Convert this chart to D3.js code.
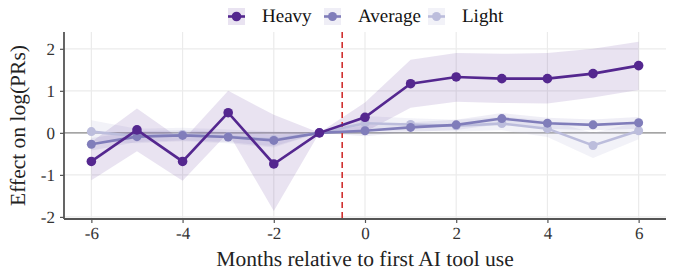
<!DOCTYPE html>
<html>
<head>
<meta charset="utf-8">
<script src="https://cdn.jsdelivr.net/npm/d3@7"></script>
<style>
  body { margin: 0; background: #fff; }
  svg text { font-family: "Liberation Serif", "DejaVu Serif", serif !important; text-rendering: geometricPrecision; }
</style>
</head>
<body>
<div id="chart"></div>
<script>
// months relative to first AI tool use
var months = [-6, -5, -4, -3, -2, -1, 0, 1, 2, 3, 4, 5, 6];

// point estimates per usage group
var heavy   = [-0.68, 0.07, -0.68, 0.48, -0.74, 0, 0.37, 1.17, 1.33, 1.29, 1.29, 1.41, 1.60];
var average = [-0.27, -0.09, -0.06, -0.10, -0.18, 0, 0.05, 0.13, 0.19, 0.34, 0.23, 0.19, 0.24];
var light   = [0.03, -0.08, -0.04, -0.09, -0.16, 0, 0.23, 0.20, 0.17, 0.22, 0.10, -0.30, 0.05];

// confidence bands
var heavyLo   = [-1.13, -0.44, -1.14, 0.00, -1.86, 0, 0.02, 0.60, 0.74, 0.71, 0.70, 0.84, 1.02];
var heavyHi   = [-0.22, 0.58, -0.18, 1.00, 0.43, 0, 0.72, 1.74, 1.90, 1.88, 1.90, 2.00, 2.17];
var averageLo = [-0.42, -0.22, -0.18, -0.22, -0.32, 0, -0.08, 0.02, 0.07, 0.21, 0.10, 0.06, 0.10];
var averageHi = [-0.12, 0.04, 0.06, 0.02, -0.04, 0, 0.18, 0.25, 0.31, 0.47, 0.36, 0.32, 0.38];
var lightLo   = [-0.20, -0.25, -0.20, -0.25, -0.35, 0, 0.05, 0.05, 0.03, 0.06, -0.10, -0.60, -0.15];
var lightHi   = [0.30, 0.10, 0.12, 0.08, 0.03, 0, 0.40, 0.35, 0.31, 0.38, 0.30, 0.00, 0.25];

var xTicks = [-6, -4, -2, 0, 2, 4, 6];
var yTicks = [-2, -1, 0, 1, 2];
var eventMonth = -0.5;

var serif = "'Liberation Serif', 'DejaVu Serif', serif";

var groups = [
  {name: "Heavy",   vals: heavy,   lo: heavyLo,   hi: heavyHi,   color: "#54278f", r: 4.8, band: 0.13},
  {name: "Average", vals: average, lo: averageLo, hi: averageHi, color: "#807dba", r: 4.5, band: 0.13},
  {name: "Light",   vals: light,   lo: lightLo,   hi: lightHi,   color: "#bcbddc", r: 4.5, band: 0.2}
];

var width = 680, height = 272;
var margin = {top: 32, right: 14, bottom: 53, left: 64};

var svg = d3.select("#chart").append("svg")
  .attr("width", width)
  .attr("height", height)
  .attr("font-family", serif);

var x = d3.scaleLinear().domain([-6.6, 6.6]).range([margin.left, width - margin.right]);
var y = d3.scaleLinear().domain([-2.05, 2.4]).range([height - margin.bottom, margin.top]);

// grid
svg.append("g")
  .selectAll("line")
  .data(xTicks)
  .join("line")
  .attr("x1", d => x(d)).attr("x2", d => x(d))
  .attr("y1", margin.top).attr("y2", height - margin.bottom)
  .attr("stroke", "#ebebeb").attr("stroke-width", 1.2);

svg.append("g")
  .selectAll("line")
  .data(yTicks)
  .join("line")
  .attr("x1", margin.left).attr("x2", width - margin.right)
  .attr("y1", d => y(d)).attr("y2", d => y(d))
  .attr("stroke", "#ebebeb").attr("stroke-width", 1.2);

// zero line
svg.append("line")
  .attr("x1", margin.left).attr("x2", width - margin.right)
  .attr("y1", y(0)).attr("y2", y(0))
  .attr("stroke", "#8c8c8c").attr("stroke-width", 1.4);

// bands, light first so heavy sits on top
var area = d3.area()
  .x((d, i) => x(months[i]))
  .y0(d => y(d[0]))
  .y1(d => y(d[1]));

groups.slice().reverse().forEach(function(g) {
  var pairs = g.lo.map((v, i) => [v, g.hi[i]]);
  svg.append("path")
    .datum(pairs)
    .attr("d", area)
    .attr("fill", g.color)
    .attr("fill-opacity", g.band);
});

// event line
svg.append("line")
  .attr("x1", x(eventMonth)).attr("x2", x(eventMonth))
  .attr("y1", margin.top).attr("y2", height - margin.bottom)
  .attr("stroke", "#d03030").attr("stroke-width", 1.6)
  .attr("stroke-dasharray", "6,4");

// lines and points
var line = d3.line()
  .x((d, i) => x(months[i]))
  .y(d => y(d));

groups.slice().reverse().forEach(function(g) {
  svg.append("path")
    .datum(g.vals)
    .attr("d", line)
    .attr("fill", "none")
    .attr("stroke", g.color)
    .attr("stroke-width", 2.6);
  svg.append("g")
    .selectAll("circle")
    .data(g.vals)
    .join("circle")
    .attr("cx", (d, i) => x(months[i]))
    .attr("cy", d => y(d))
    .attr("r", g.r)
    .attr("fill", g.color);
});

// axes
var xAxis = svg.append("g")
  .attr("transform", "translate(0," + (height - margin.bottom) + ")")
  .call(d3.axisBottom(x).tickValues(xTicks).tickSize(4).tickPadding(4).tickFormat(d3.format("d")));
var yAxis = svg.append("g")
  .attr("transform", "translate(" + margin.left + ",0)")
  .call(d3.axisLeft(y).tickValues(yTicks).tickSize(4).tickPadding(5).tickFormat(d3.format("d")));

[xAxis, yAxis].forEach(function(a) {
  a.attr("font-family", serif).attr("font-size", 17);
  a.select(".domain").attr("stroke", "#555").attr("stroke-width", 1.8);
  a.selectAll(".tick line").attr("stroke", "#555").attr("stroke-width", 1.2);
  a.selectAll(".tick text")
    .attr("fill", "#333")
    .text(d => d < 0 ? "-" + Math.abs(d) : d);
});
xAxis.select(".domain").attr("d", "M" + margin.left + ",0H" + (width - margin.right));
yAxis.select(".domain").attr("d", "M0," + margin.top + "V" + (height - margin.bottom));

// axis titles
svg.append("text")
  .attr("x", x(0))
  .attr("y", height - 6)
  .attr("text-anchor", "middle")
  .attr("font-size", 21.5)
  .attr("fill", "#222")
  .text("Months relative to first AI tool use");

svg.append("text")
  .attr("transform", "translate(25," + ((margin.top + height - margin.bottom) / 2) + ") rotate(-90)")
  .attr("text-anchor", "middle")
  .attr("font-size", 21.5)
  .attr("fill", "#222")
  .text("Effect on log(PRs)");

// legend
var legendX = [228, 324, 428];
var legend = svg.append("g");
groups.forEach(function(g, i) {
  var lg = legend.append("g").attr("transform", "translate(" + legendX[i] + ",16)");
  lg.append("rect")
    .attr("x", 0).attr("y", -8).attr("width", 17).attr("height", 17)
    .attr("fill", g.color).attr("fill-opacity", g.band);
  lg.append("line")
    .attr("x1", 0).attr("x2", 17).attr("y1", 0.5).attr("y2", 0.5)
    .attr("stroke", g.color).attr("stroke-width", 2.6);
  lg.append("circle")
    .attr("cx", 8.5).attr("cy", 0.5).attr("r", g.r)
    .attr("fill", g.color);
  lg.append("text")
    .attr("x", 34).attr("y", 6)
    .attr("font-size", 19)
    .attr("fill", "#111")
    .text(g.name);
});
</script>
</body>
</html>
